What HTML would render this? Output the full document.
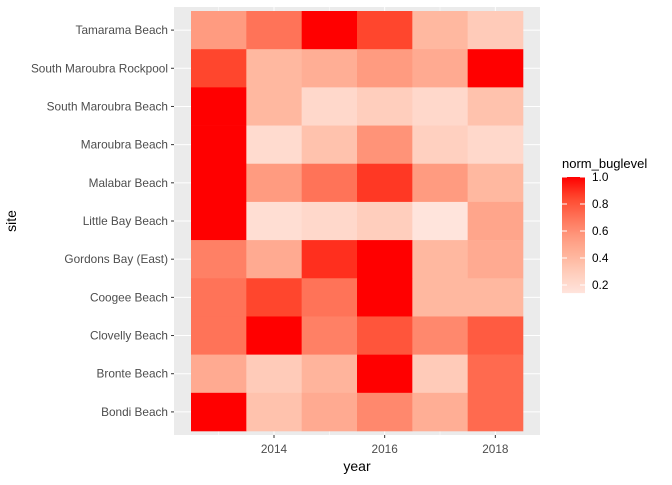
<!DOCTYPE html>
<html><head><meta charset="utf-8"><style>
body{margin:0;background:#fff;font-family:"Liberation Sans",Arial,sans-serif}
</style></head><body>
<svg id="c" width="672" height="480" xmlns="http://www.w3.org/2000/svg"></svg>
<script>
const sites=["Tamarama Beach","South Maroubra Rockpool","South Maroubra Beach","Maroubra Beach","Malabar Beach","Little Bay Beach","Gordons Bay (East)","Coogee Beach","Clovelly Beach","Bronte Beach","Bondi Beach"];
const years=[2013,2014,2015,2016,2017,2018];
const xTicks=[2014,2016,2018];
const legendTicks=[0.2,0.4,0.6,0.8,1.0];
const values=[
[0.55,0.7,1,0.85,0.4,0.3],
[0.85,0.4,0.45,0.55,0.47,1],
[1,0.4,0.22,0.28,0.22,0.35],
[1,0.2,0.35,0.58,0.27,0.22],
[1,0.55,0.7,0.88,0.55,0.4],
[1,0.18,0.22,0.28,0.14,0.5],
[0.65,0.47,0.9,1,0.4,0.47],
[0.7,0.85,0.7,1,0.4,0.4],
[0.7,1,0.65,0.8,0.62,0.78],
[0.47,0.3,0.42,1,0.3,0.73],
[1,0.35,0.47,0.62,0.45,0.73]];
const NS="http://www.w3.org/2000/svg";
const svg=document.getElementById('c');
function mk(t,a,p){const e=document.createElementNS(NS,t);for(const k in a)e.setAttribute(k,a[k]);(p||svg).appendChild(e);return e;}
const px0=174,px1=540,py0=7,py1=435;
const xs=y=>191+(y-2012.5)*(523-191)/6;
const rowH=(431-11)/sites.length;
const ys=i=>11+rowH*(i+0.5);
const stops=[[0.14,228,220],[0.3,203,185],[0.4,184,160],[0.55,155,128],[0.7,115,88],[0.85,70,45],[1,0,0]];
function col(v){v=Math.max(0.14,Math.min(1,v));for(let i=1;i<stops.length;i++){if(v<=stops[i][0]){const a=stops[i-1],b=stops[i],t=(v-a[0])/(b[0]-a[0]);return `rgb(255,${Math.round(a[1]+t*(b[1]-a[1]))},${Math.round(a[2]+t*(b[2]-a[2]))})`;}}return 'rgb(255,0,0)';}
const bg=mk('rect',{x:px0,y:py0,width:px1-px0,height:py1-py0,fill:'#EBEBEB'});


[2013,2015,2017].forEach(y=>mk('line',{x1:xs(y),x2:xs(y),y1:py0,y2:py1,stroke:'#fff','stroke-width':0.5}));
xTicks.forEach(y=>mk('line',{x1:xs(y),x2:xs(y),y1:py0,y2:py1,stroke:'#fff','stroke-width':1}));
sites.forEach((s,i)=>mk('line',{x1:px0,x2:px1,y1:ys(i),y2:ys(i),stroke:'#fff','stroke-width':1}));
values.forEach((row,i)=>row.forEach((v,j)=>{
 const r=mk('rect',{x:xs(years[j]-0.5),y:ys(i)-rowH/2,width:xs(years[j]+0.5)-xs(years[j]-0.5)+0.3,height:rowH+0.3,fill:col(v)});
 
 
}));
sites.forEach((s,i)=>{
 mk('line',{x1:px0-3,x2:px0,y1:ys(i),y2:ys(i),stroke:'#333'});
 const t=mk('text',{x:px0-6,y:ys(i)+4,'text-anchor':'end','font-size':11.8,fill:'#4D4D4D'});t.textContent=s;
 
 
});
xTicks.forEach(y=>{
 mk('line',{x1:xs(y),x2:xs(y),y1:py1,y2:py1+3,stroke:'#333'});
 const t=mk('text',{x:xs(y),y:453,'text-anchor':'middle','font-size':11.8,fill:'#4D4D4D'});t.textContent=y;
 
 
});
const xt=mk('text',{x:357,y:471,'text-anchor':'middle','font-size':14,fill:'#000'});xt.textContent='year';


const yt=mk('text',{x:16,y:221,'text-anchor':'middle','font-size':14,fill:'#000',transform:'rotate(-90 16 221)'});yt.textContent='site';


const lt=mk('text',{x:562,y:168,'font-size':13,fill:'#000'});lt.textContent='norm_buglevel';


const ly=v=>177+(1-v)*135;
const defs=mk('defs',{});const g=mk('linearGradient',{id:'lg',x1:0,y1:1,x2:0,y2:0},defs);
for(let k=0;k<=20;k++){const v=0.14+k*(0.86/20);mk('stop',{offset:(ly(0.14)-ly(v))/(ly(0.14)-ly(1)),'stop-color':col(v)},g);}
const bar=mk('rect',{x:562,y:ly(1),width:23,height:ly(0.14)-ly(1),fill:'url(#lg)'});


legendTicks.forEach(v=>{
 mk('line',{x1:562,x2:567,y1:ly(v),y2:ly(v),stroke:'#fff'});
 mk('line',{x1:580,x2:585,y1:ly(v),y2:ly(v),stroke:'#fff'});
 const t=mk('text',{x:592,y:ly(v)+4,'font-size':11.8,fill:'#000'});t.textContent=v.toFixed(1);
 
 
});
</script>
</body></html>
